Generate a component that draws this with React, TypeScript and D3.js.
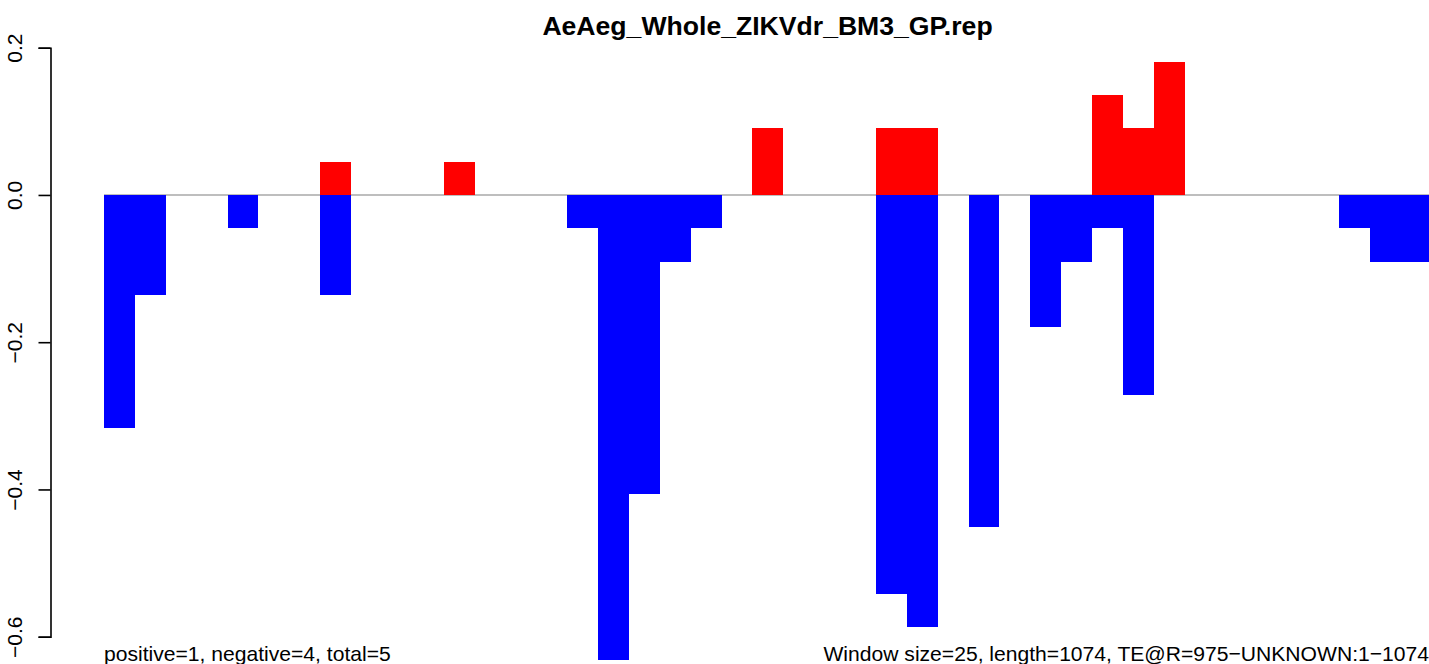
import React, { useEffect, useRef } from "react";
import * as d3 from "d3";

// one value per 25 bp window
const negValues: number[] = [
  -0.316, -0.136, 0, 0, -0.045, 0, 0, -0.136, 0, 0,
  0, 0, 0, 0, 0, -0.045, -0.632, -0.406, -0.091, -0.045,
  0, 0, 0, 0, 0, -0.542, -0.587, 0, -0.451, 0,
  -0.18, -0.091, -0.045, -0.272, 0, 0, 0, 0, 0, 0,
  -0.045, -0.091, -0.091,
];

const posValues: number[] = [
  0, 0, 0, 0, 0, 0, 0, 0.045, 0, 0,
  0, 0.045, 0, 0, 0, 0, 0, 0, 0, 0,
  0, 0.091, 0, 0, 0, 0.091, 0.091, 0, 0, 0,
  0, 0, 0.136, 0.091, 0.18, 0, 0, 0, 0, 0,
  0, 0, 0,
];

const yTicks: number[] = [-0.6, -0.4, -0.2, 0, 0.2];
const yTickLabels: string[] = ["\u22120.6", "\u22120.4", "\u22120.2", "0.0", "0.2"];

const title = "AeAeg_Whole_ZIKVdr_BM3_GP.rep";
const leftNote = "positive=1, negative=4, total=5";
const rightNote = "Window size=25, length=1074, TE@R=975\u2212UNKNOWN:1\u22121074";

const WIDTH = 1429;
const HEIGHT = 664;
const FONT = "'Liberation Sans', Arial, Helvetica, sans-serif";

export default function App() {
  const svgRef = useRef<SVGSVGElement | null>(null);

  useEffect(() => {
    const svg = d3.select(svgRef.current);
    svg.selectAll("*").remove();

    const n = negValues.length;
    const xScale = d3.scaleLinear().domain([0, n]).range([104, 104 + n * 30.875]);
    const yScale = d3.scaleLinear().domain([-0.6, 0.2]).range([636.7, 47.7]);
    const y0 = yScale(0);

    // zero line
    svg
      .append("line")
      .attr("x1", xScale(0))
      .attr("x2", xScale(n))
      .attr("y1", y0)
      .attr("y2", y0)
      .attr("stroke", "#a9a9a9")
      .attr("stroke-width", 1.6);

    // negative bars
    svg
      .append("g")
      .selectAll("rect")
      .data(negValues.map((v, i) => ({ v, i })).filter((d) => d.v < 0))
      .join("rect")
      .attr("x", (d) => xScale(d.i))
      .attr("width", (d) => xScale(d.i + 1) - xScale(d.i))
      .attr("y", y0)
      .attr("height", (d) => yScale(d.v) - y0)
      .attr("fill", "#0000ff")
      .attr("shape-rendering", "crispEdges");

    // positive bars
    svg
      .append("g")
      .selectAll("rect")
      .data(posValues.map((v, i) => ({ v, i })).filter((d) => d.v > 0))
      .join("rect")
      .attr("x", (d) => xScale(d.i))
      .attr("width", (d) => xScale(d.i + 1) - xScale(d.i))
      .attr("y", (d) => yScale(d.v))
      .attr("height", (d) => y0 - yScale(d.v))
      .attr("fill", "#ff0000")
      .attr("shape-rendering", "crispEdges");

    // y axis
    const axis = svg
      .append("g")
      .attr("transform", "translate(50.5,0)")
      .call(
        d3
          .axisLeft(yScale)
          .tickValues(yTicks)
          .tickSize(12)
          .tickFormat((_, i) => yTickLabels[i])
      );
    axis.select(".domain").attr("stroke", "#000").attr("stroke-width", 1.6);
    axis.selectAll(".tick line").attr("stroke", "#000").attr("stroke-width", 1.6);
    axis
      .selectAll(".tick text")
      .attr("x", null)
      .attr("dy", null)
      .attr("transform", "translate(-28.5,0) rotate(-90)")
      .attr("text-anchor", "middle")
      .attr("fill", "#000")
      .style("font-family", FONT)
      .style("font-size", "21px");

    // title
    svg
      .append("text")
      .attr("x", 767.5)
      .attr("y", 35)
      .attr("text-anchor", "middle")
      .style("font-family", FONT)
      .style("font-size", "26.6px")
      .style("font-weight", "bold")
      .text(title);

    // bottom notes
    svg
      .append("text")
      .attr("x", 104)
      .attr("y", 661)
      .style("font-family", FONT)
      .style("font-size", "21.1px")
      .text(leftNote);

    svg
      .append("text")
      .attr("x", 1429)
      .attr("y", 661)
      .attr("text-anchor", "end")
      .style("font-family", FONT)
      .style("font-size", "21.1px")
      .text(rightNote);
  }, []);

  return (
    <svg
      ref={svgRef}
      width={WIDTH}
      height={HEIGHT}
      style={{ position: "absolute", left: 0, top: 0, background: "#fff" }}
    />
  );
}
